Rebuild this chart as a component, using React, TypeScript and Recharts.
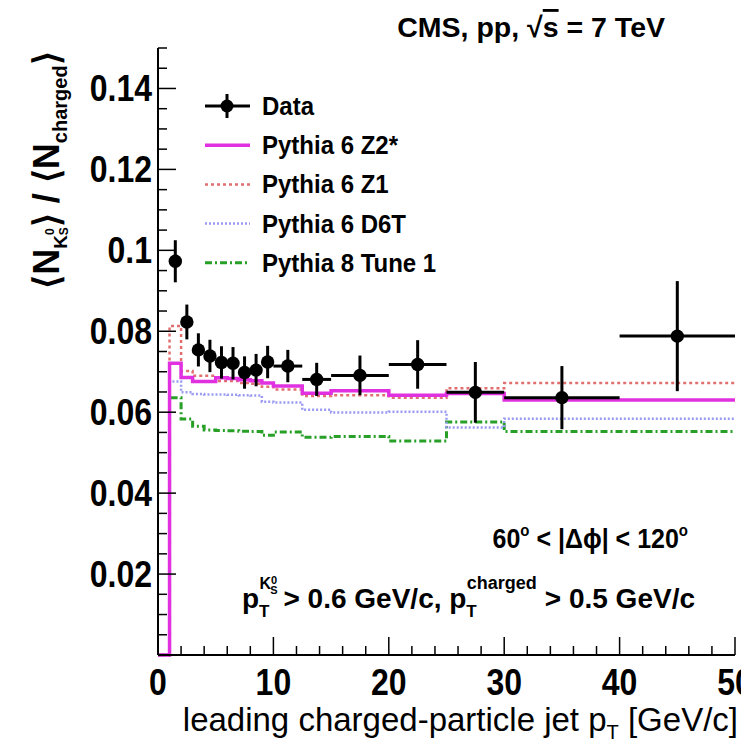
import React from 'react';
import {
  ComposedChart,
  Line,
  Scatter,
  ErrorBar,
  XAxis,
  YAxis,
} from 'recharts';

// bin low edges of the MC histograms (last entry closes the last bin)
const edges = [0, 1, 2, 3, 4, 5, 6, 7, 8, 9, 10, 12.5, 15, 20, 25, 30, 50];
const z2star = [0, 0.0721, 0.0686, 0.0676, 0.0676, 0.0685, 0.0683, 0.068, 0.0678, 0.0672, 0.0665, 0.0647, 0.0653, 0.0642, 0.0646, 0.063, 0.063];
const z1 = [0, 0.0813, 0.0702, 0.069, 0.069, 0.0677, 0.0677, 0.0672, 0.067, 0.0663, 0.0656, 0.064, 0.0642, 0.0636, 0.0659, 0.0672, 0.0672];
const d6t = [0, 0.0676, 0.0649, 0.0645, 0.0644, 0.0644, 0.0643, 0.0642, 0.0641, 0.0626, 0.0624, 0.0606, 0.0599, 0.0601, 0.0562, 0.0584, 0.0584];
const p8t1 = [0, 0.0636, 0.0583, 0.0565, 0.0556, 0.0555, 0.0554, 0.0553, 0.0552, 0.0543, 0.0551, 0.0538, 0.054, 0.0529, 0.0576, 0.0552, 0.0552];

// CMS data points
const dataX = [1.5, 2.5, 3.5, 4.5, 5.5, 6.5, 7.5, 8.5, 9.5, 11.25, 13.75, 17.5, 22.5, 27.5, 35, 45];
const dataY = [0.0973, 0.0823, 0.0754, 0.0739, 0.0723, 0.0721, 0.0698, 0.0704, 0.0724, 0.0714, 0.0681, 0.0691, 0.0718, 0.0649, 0.0636, 0.0788];
const dataXErr = [0.5, 0.5, 0.5, 0.5, 0.5, 0.5, 0.5, 0.5, 0.5, 1.25, 1.25, 2.5, 2.5, 2.5, 5, 5];
const dataYErr = [0.0052, 0.0043, 0.0041, 0.004, 0.004, 0.004, 0.004, 0.004, 0.004, 0.004, 0.0041, 0.0049, 0.006, 0.0075, 0.0078, 0.0136];

const xMajor = [0, 10, 20, 30, 40, 50];
const xLabels = ['0', '10', '20', '30', '40', '50'];
const yMajor = [0.02, 0.04, 0.06, 0.08, 0.1, 0.12, 0.14];
const yLabels = ['0.02', '0.04', '0.06', '0.08', '0.1', '0.12', '0.14'];

const legendItems = [
  { name: 'Data', color: '#000', dash: '', width: 3, marker: true },
  { name: 'Pythia 6 Z2*', color: '#e030e0', dash: '', width: 3.5, marker: false },
  { name: 'Pythia 6 Z1', color: '#e07070', dash: '3 3', width: 2.5, marker: false },
  { name: 'Pythia 6 D6T', color: '#9a9af2', dash: '2 2', width: 2.5, marker: false },
  { name: 'Pythia 8 Tune 1', color: '#28a028', dash: '7 3 2 3', width: 3, marker: false },
];

const stepRows = edges.map((x, i) => ({ x, z2: z2star[i], z1: z1[i], d6t: d6t[i], p8: p8t1[i] }));
const points = dataX.map((x, i) => ({ x, y: dataY[i], ex: dataXErr[i], ey: dataYErr[i] }));

const xAll = Array.from({ length: 26 }, (_, i) => i * 2);
const yAll = Array.from({ length: 31 }, (_, i) => Number((i * 0.005).toFixed(3)));

const FONT = '"Liberation Sans", Arial, Helvetica, sans-serif';
const STRETCH = 1.17;

const isMajorY = (v: number) => yMajor.some((m) => Math.abs(m - v) < 1e-9);

const BottomTick = (props: any) => {
  const { x, y, payload } = props;
  const idx = xMajor.indexOf(payload.value);
  const major = idx >= 0;
  return (
    <g>
      <line x1={x} x2={x} y1={y} y2={y - (major ? 18 : 9)} stroke="#000" strokeWidth={1.5} />
      {major && (
        <text
          transform={`translate(${x},${y + 40}) scale(1,${STRETCH})`}
          textAnchor="middle"
          fontFamily={FONT}
          fontWeight="bold"
          fontSize={32}
          fill="#000"
        >
          {xLabels[idx]}
        </text>
      )}
    </g>
  );
};

const TopTick = (props: any) => {
  const { x, y, payload } = props;
  const major = xMajor.indexOf(payload.value) >= 0;
  return <line x1={x} x2={x} y1={y} y2={y + (major ? 18 : 9)} stroke="#000" strokeWidth={1.5} />;
};

const LeftTick = (props: any) => {
  const { x, y, payload } = props;
  const v = payload.value;
  const major = isMajorY(v);
  const idx = yMajor.findIndex((m) => Math.abs(m - v) < 1e-9);
  return (
    <g>
      <line x1={x} x2={x + (major ? 18 : 9)} y1={y} y2={y} stroke="#000" strokeWidth={1.5} />
      {major && (
        <text
          transform={`translate(${x - 6},${y + 13}) scale(1,${STRETCH})`}
          textAnchor="end"
          fontFamily={FONT}
          fontWeight="bold"
          fontSize={32}
          fill="#000"
        >
          {yLabels[idx]}
        </text>
      )}
    </g>
  );
};

const RightTick = (props: any) => {
  const { x, y, payload } = props;
  const major = isMajorY(payload.value);
  return <line x1={x} x2={x - (major ? 18 : 9)} y1={y} y2={y} stroke="#000" strokeWidth={1.5} />;
};

const DataDot = (props: any) => {
  const { cx, cy } = props;
  return <circle cx={cx} cy={cy} r={6.7} fill="#000" />;
};

export default function App() {
  return (
    <div style={{ position: 'absolute', left: 0, top: 0, width: 741, height: 752, background: '#fff', overflow: 'hidden' }}>
      <ComposedChart
        width={741}
        height={752}
        data={stepRows}
        margin={{ top: 48, right: 6, bottom: 0, left: 0 }}
      >
        <XAxis
          dataKey="x"
          type="number"
          domain={[0, 50]}
          ticks={xAll}
          interval={0}
          tick={<BottomTick />}
          tickLine={false}
          tickSize={0}
          tickMargin={0}
          height={97}
          axisLine={{ stroke: '#000', strokeWidth: 2 }}
        />
        <XAxis
          xAxisId="top"
          orientation="top"
          type="number"
          domain={[0, 50]}
          ticks={xAll}
          interval={0}
          tick={<TopTick />}
          tickLine={false}
          tickSize={0}
          tickMargin={0}
          height={0}
          axisLine={{ stroke: '#000', strokeWidth: 2 }}
        />
        <YAxis
          type="number"
          domain={[0, 0.15]}
          ticks={yAll}
          interval={0}
          tick={<LeftTick />}
          tickLine={false}
          tickSize={0}
          tickMargin={0}
          width={158}
          axisLine={{ stroke: '#000', strokeWidth: 2 }}
        />
        <YAxis
          yAxisId="right"
          orientation="right"
          type="number"
          domain={[0, 0.15]}
          ticks={yAll}
          interval={0}
          tick={<RightTick />}
          tickLine={false}
          tickSize={0}
          tickMargin={0}
          width={0}
          axisLine={{ stroke: '#000', strokeWidth: 2 }}
        />

        <Line type="stepAfter" dataKey="p8" stroke="#28a028" strokeWidth={3} strokeDasharray="7 3 2 3" dot={false} isAnimationActive={false} />
        <Line type="stepAfter" dataKey="d6t" stroke="#9a9af2" strokeWidth={2.5} strokeDasharray="2 2" dot={false} isAnimationActive={false} />
        <Line type="stepAfter" dataKey="z1" stroke="#e07070" strokeWidth={2.5} strokeDasharray="3 3" dot={false} isAnimationActive={false} />
        <Line type="stepAfter" dataKey="z2" stroke="#e030e0" strokeWidth={3.5} dot={false} isAnimationActive={false} />

        <Scatter data={points} dataKey="y" shape={<DataDot />} isAnimationActive={false}>
          <ErrorBar dataKey="ex" direction="x" width={0} stroke="#000" strokeWidth={3} />
          <ErrorBar dataKey="ey" direction="y" width={0} stroke="#000" strokeWidth={3} />
        </Scatter>
      </ComposedChart>

      <svg
        width={741}
        height={752}
        style={{ position: 'absolute', left: 0, top: 0, pointerEvents: 'none' }}
        fontFamily={FONT}
      >
        <text x={665} y={37} textAnchor="end" fontWeight="bold" fontSize={28.5} fill="#000">
          CMS, pp, √<tspan textDecoration="overline">s</tspan> = 7 TeV
        </text>

        {/* legend */}
        {legendItems.map((it, i) => {
          const y = 106 + i * 39.2;
          return (
            <g key={it.name}>
              <line x1={205} x2={250} y1={y} y2={y} stroke={it.color} strokeWidth={it.width} strokeDasharray={it.dash} />
              {it.marker && (
                <>
                  <line x1={227} x2={227} y1={y - 12} y2={y + 12} stroke="#000" strokeWidth={3} />
                  <circle cx={227} cy={y} r={6.5} fill="#000" />
                </>
              )}
              <text transform={`translate(262,${y + 9}) scale(1,1.08)`} fontWeight="bold" fontSize={24} fill="#000">
                {it.name}
              </text>
            </g>
          );
        })}

        <text transform={`translate(59,170) rotate(-90)`} textAnchor="middle" fontWeight="bold" fontSize={36} fill="#000">
          ⟨N<tspan fontSize={19} dy={8}>K</tspan>
          <tspan fontSize={12} dy={-13}>0</tspan>
          <tspan fontSize={12} dx={-7} dy={14}>S</tspan>
          <tspan fontSize={36} dy={-9}>⟩ / ⟨N</tspan>
          <tspan fontSize={20} dy={8}>charged</tspan>
          <tspan fontSize={36} dy={-8}>⟩</tspan>
        </text>

        <text transform={`translate(688,548) scale(1,1.12)`} textAnchor="end" fontWeight="bold" fontSize={25} fill="#000">
          60<tspan fontSize={15} dy={-11}>o</tspan>
          <tspan dy={11}> &lt; |Δϕ| &lt; 120</tspan>
          <tspan fontSize={15} dy={-11}>o</tspan>
        </text>

        <text x={695} y={608} textAnchor="end" fontWeight="bold" fontSize={28} fill="#000">
          p<tspan fontSize={17} dy={9}>T</tspan>
          <tspan fontSize={16} dx={-10} dy={-28}>K</tspan>
          <tspan fontSize={11} dy={-5}>0</tspan>
          <tspan fontSize={11} dx={-7} dy={10}>S</tspan>
          <tspan fontSize={28} dx={6} dy={14}>&gt; 0.6 GeV/c, p</tspan>
          <tspan fontSize={17} dy={9}>T</tspan>
          <tspan fontSize={18} dx={-10} dy={-28}>charged</tspan>
          <tspan fontSize={28} dx={8} dy={19}>&gt; 0.5 GeV/c</tspan>
        </text>

        <text x={738} y={731} textAnchor="end" fontSize={33} fill="#000">
          leading charged-particle jet p<tspan fontSize={20} dy={8}>T</tspan>
          <tspan fontSize={33} dy={-8}> [GeV/c]</tspan>
        </text>
      </svg>
    </div>
  );
}
